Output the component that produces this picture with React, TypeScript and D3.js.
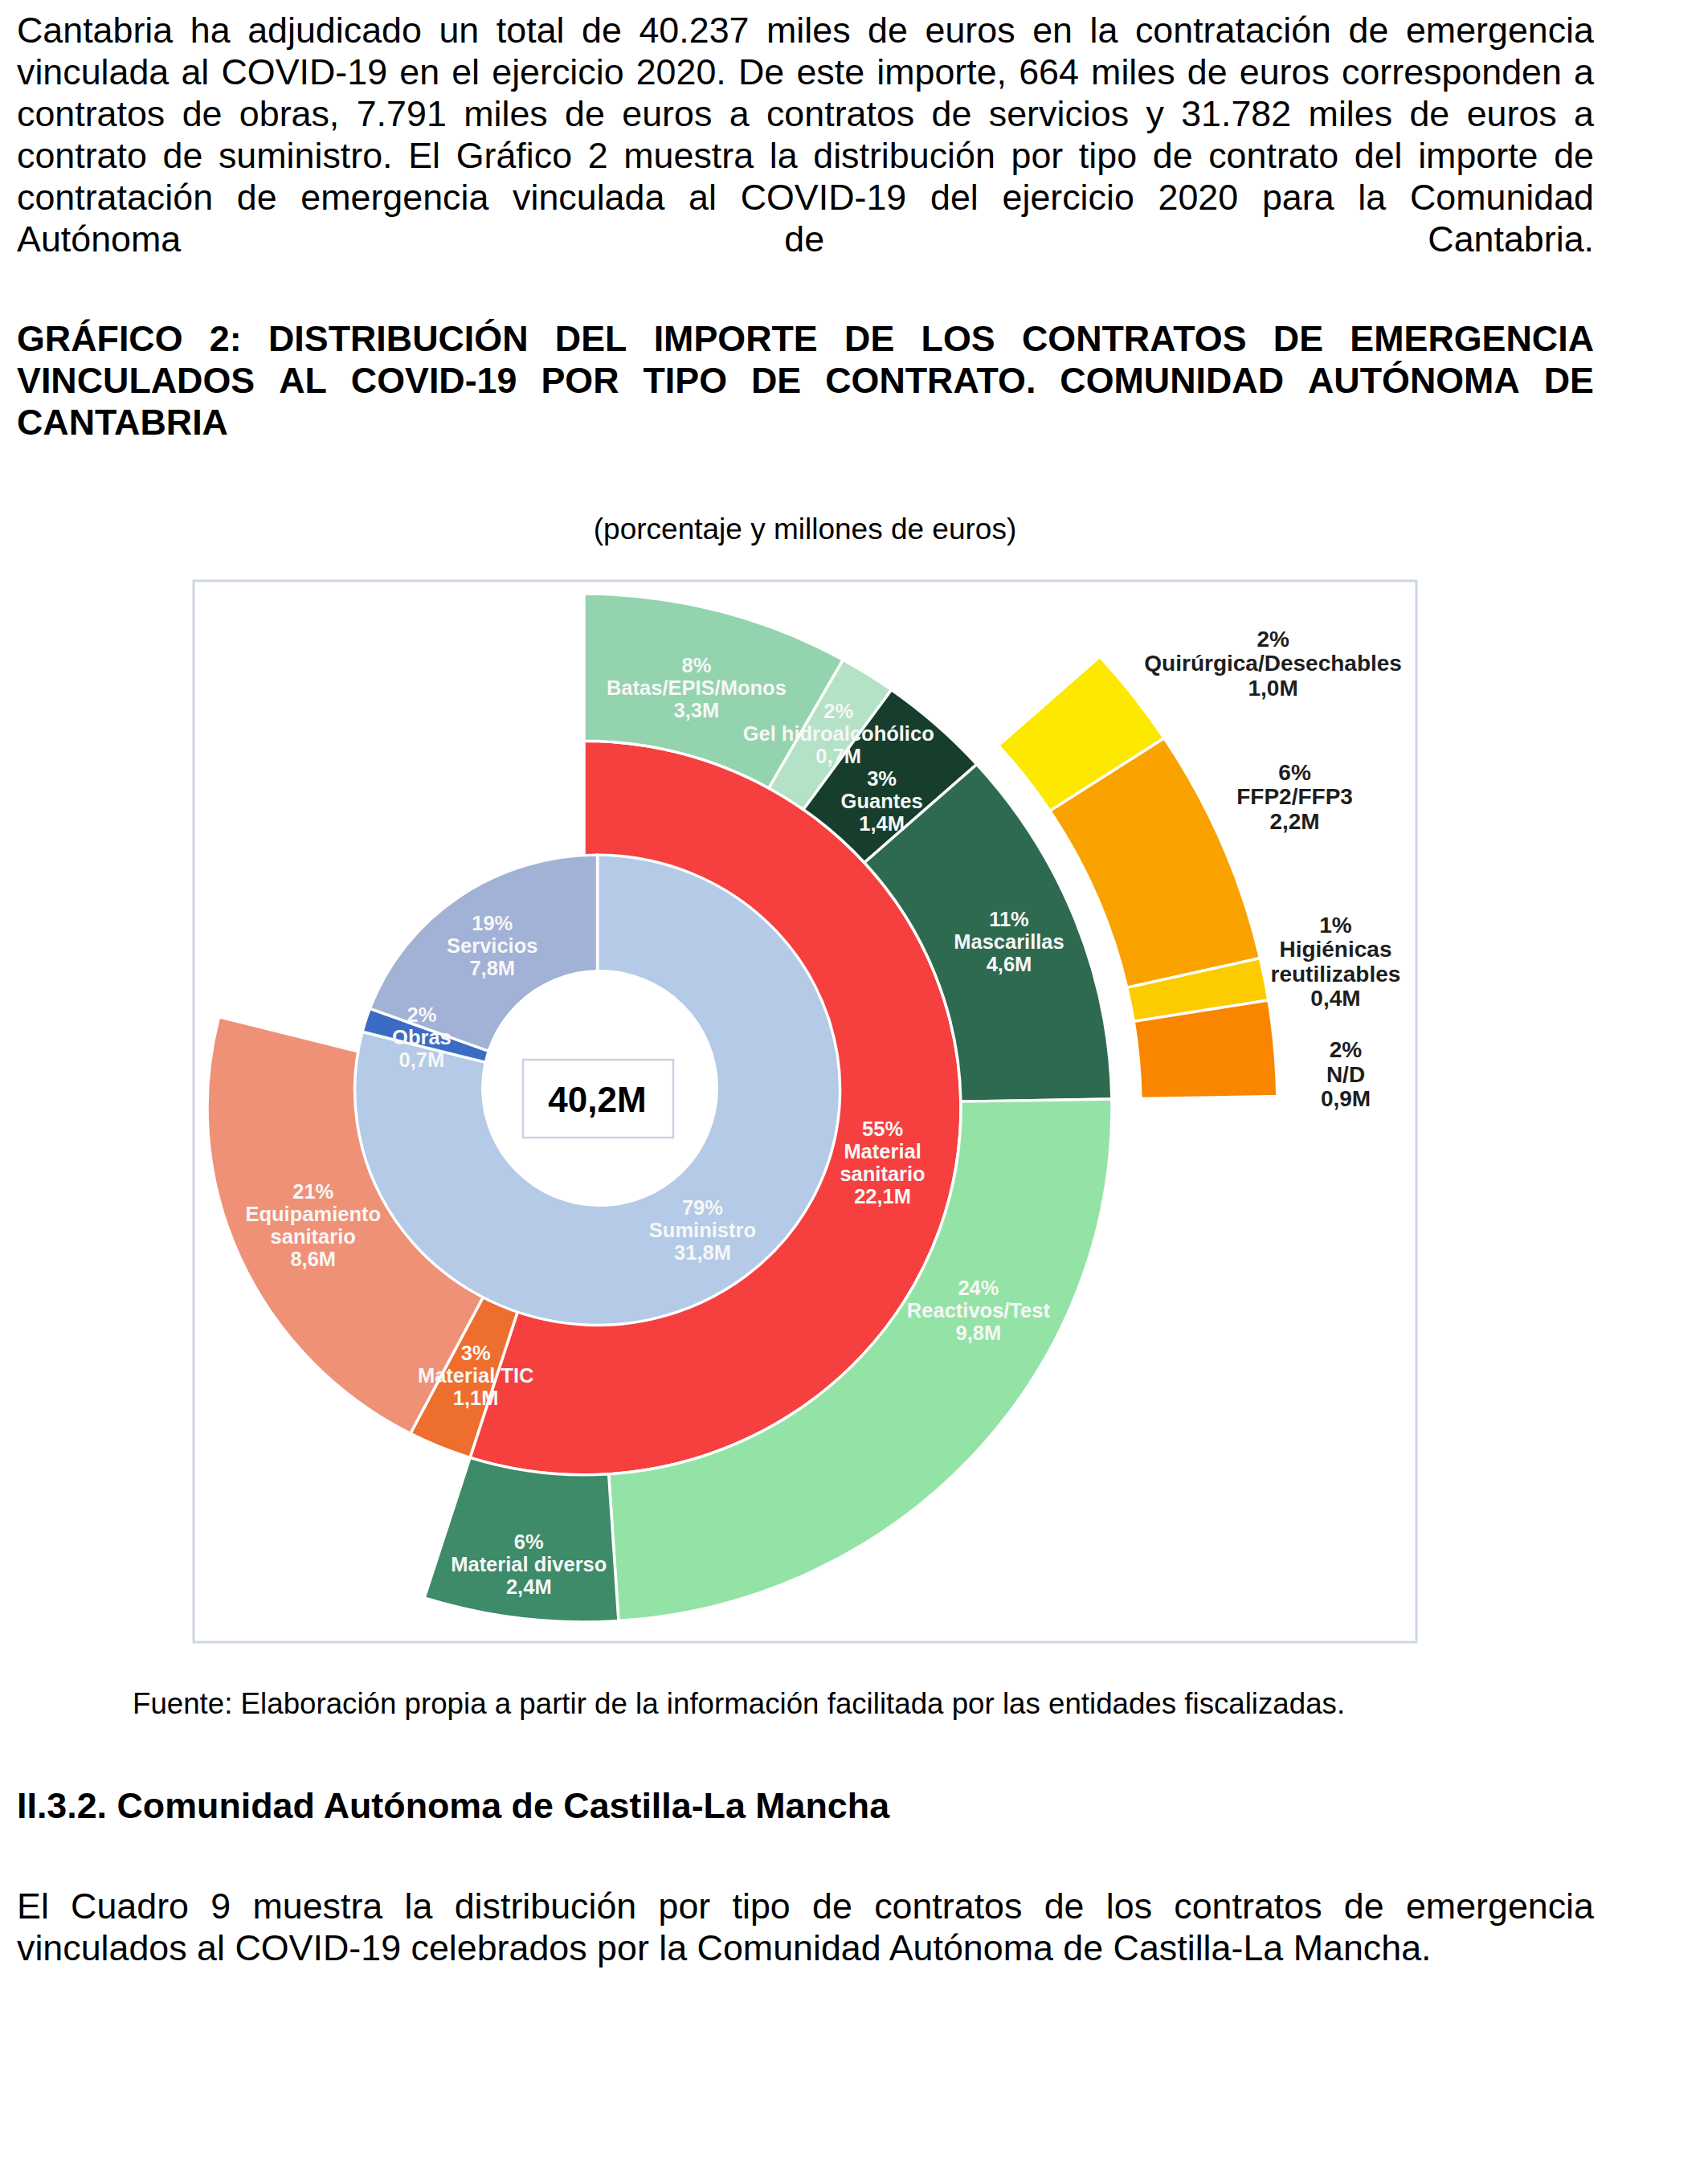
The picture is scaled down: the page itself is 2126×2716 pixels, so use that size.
import React from "react";
import * as d3 from "d3";

// ---------------- DATA ----------------
const contractNames = ["Suministro", "Obras", "Servicios"];
const contractValues = [31782, 664, 7791]; // miles de euros
const contractColors = ["#b4cae6", "#3b6cc5", "#a2b1d6"];

const supplyNames = ["Material\nsanitario", "Material TIC", "Equipamiento\nsanitario"];
const supplyValues = [22.1, 1.1, 8.6]; // millones
const supplyColors = ["#f5403f", "#ee6e2d", "#ef9176"];

const sanitaryNames = ["Batas/EPIS/Monos", "Gel hidroalcohólico", "Guantes", "Mascarillas", "Reactivos/Test", "Material diverso"];
const sanitaryValues = [3.3, 0.7, 1.4, 4.6, 9.8, 2.4];
const sanitaryColors = ["#93d3ae", "#b3e2c6", "#173e2c", "#2e6a4f", "#94e3a6", "#3d8b69"];

const maskNames = ["Quirúrgica/Desechables", "FFP2/FFP3", "Higiénicas\nreutilizables", "N/D"];
const maskValues = [0.96, 2.24, 0.4, 0.9];
const maskColors = ["#fde900", "#f9a200", "#fccc00", "#fa8600"];

const paragraph1 = [
  "Cantabria ha adjudicado un total de 40.237 miles de euros en la contratación de emergencia",
  "vinculada al COVID-19 en el ejercicio 2020. De este importe, 664 miles de euros corresponden a",
  "contratos de obras, 7.791 miles de euros a contratos de servicios y 31.782 miles de euros a",
  "contrato de suministro. El Gráfico 2 muestra la distribución por tipo de contrato del importe de",
  "contratación de emergencia vinculada al COVID-19 del ejercicio 2020 para la Comunidad",
  "Autónoma de Cantabria.",
];
const titleLines = [
  "GRÁFICO 2: DISTRIBUCIÓN DEL IMPORTE DE LOS CONTRATOS DE EMERGENCIA",
  "VINCULADOS AL COVID-19 POR TIPO DE CONTRATO. COMUNIDAD AUTÓNOMA DE",
  "CANTABRIA",
];
const subtitle = "(porcentaje y millones de euros)";
const sourceNote = "Fuente: Elaboración propia a partir de la información facilitada por las entidades fiscalizadas.";
const heading = "II.3.2. Comunidad Autónoma de Castilla-La Mancha";
const paragraph2 = [
  "El Cuadro 9 muestra la distribución por tipo de contratos de los contratos de emergencia",
  "vinculados al COVID-19 celebrados por la Comunidad Autónoma de Castilla-La Mancha.",
];

// ---------------- LAYOUT ----------------
const FONT = "'Liberation Sans', Arial, sans-serif";
const BODY = 44.8;
const C1 = { x: 743.6, y: 1356.8, sy: 0.969 };
const C2 = { x: 727, y: 1379, sy: 0.974 };
const innerLabel = [{ r: 222, t: 0.506 }, { r: 229, t: 0.49 }, { r: 227, t: 0.495 }];
const supplyLabel = [{ r: 378, t: 0.509 }, { r: 367, t: 0.4 }, { r: 369, t: 0.502 }];
const sanitaryLabel = [
  { r: 555, t: 0.497 }, { r: 574, t: 0.66 }, { r: 540, t: 0.62 },
  { r: 570, t: 0.49 }, { r: 555, t: 0.33 }, { r: 587, t: 0.49 },
];
const maskLabel = [{ r: 1029, t: 0.96 }, { r: 970, t: 0.44 }, { r: 954, t: 0.41 }, { r: 949, t: 0.8 }];

let ctx: CanvasRenderingContext2D | null = null;
function measure(s: string, size: number, weight: string) {
  if (!ctx) ctx = document.createElement("canvas").getContext("2d");
  ctx!.font = `${weight} ${size}px "Liberation Sans"`;
  return ctx!.measureText(s).width;
}

function Justified({ text, x, y, width, size, weight }: any) {
  const words = text.split(" ");
  if (words.length < 2) {
    return <text x={x} y={y} fontSize={size} fontWeight={weight} fontFamily={FONT}>{text}</text>;
  }
  const ws = words.map((w: string) => measure(w, size, weight));
  const gap = (width - d3.sum(ws)) / (words.length - 1);
  let cx = x;
  const xs = ws.map((w: number) => { const v = cx; cx += w + gap; return v; });
  return (
    <text y={y} fontSize={size} fontWeight={weight} fontFamily={FONT}>
      {words.map((w: string, i: number) => <tspan key={i} x={xs[i]}>{w}</tspan>)}
    </text>
  );
}

const fmtM = (v: number) => d3.format(".1f")(v).replace(".", ",") + "M";

function Block({ x, y, lines, fs, lh, fill }: any) {
  const n = lines.length;
  return (
    <text textAnchor="middle" fontSize={fs} fontWeight="bold" fill={fill} fontFamily={FONT}>
      {lines.map((s: string, i: number) => (
        <tspan key={i} x={x} y={y + (i - (n - 1) / 2) * lh + 0.36 * fs}>{s}</tspan>
      ))}
    </text>
  );
}

function pos(c: any, d: any, l: any) {
  const a = d.startAngle + l.t * (d.endAngle - d.startAngle);
  return { x: c.x + l.r * Math.sin(a), y: c.y - l.r * Math.cos(a) * c.sy };
}

export default function App() {
  const totalM = d3.sum(contractValues) / 1000;
  const pct = (v: number) => Math.round((v / totalM) * 100) + "%";

  const innerArcs = d3.pie<number>().sort(null).value((d) => d)(contractValues);
  const supplyArcs = d3.pie<number>().sort(null).value((d) => d)
    .startAngle(innerArcs[0].startAngle).endAngle(innerArcs[0].endAngle)(supplyValues);
  const sanitaryArcs = d3.pie<number>().sort(null).value((d) => d)
    .startAngle(supplyArcs[0].startAngle).endAngle(supplyArcs[0].endAngle)(sanitaryValues);
  const maskArcs = d3.pie<number>().sort(null).value((d) => d)
    .startAngle(sanitaryArcs[3].startAngle).endAngle(sanitaryArcs[3].endAngle)(maskValues);

  const arcInner = d3.arc<any>().innerRadius(140).outerRadius(302);
  const arcSupply = d3.arc<any>().innerRadius(250).outerRadius(469);
  const arcSanitary = d3.arc<any>().innerRadius(469).outerRadius(657);
  const arcMask = d3.arc<any>().innerRadius(693).outerRadius(863);

  const white = "#f7f7f7";
  const stroke = { stroke: "#ffffff", strokeWidth: 3.5 };

  return (
    <svg width={2126} height={2716} style={{ position: "absolute", left: 0, top: 0, background: "#fff" }}>
      <rect x={0} y={0} width={2126} height={2716} fill="#fff" />
      {paragraph1.map((l, i) => (
        <Justified key={i} text={l} x={21} y={53 + i * 52} width={1963} size={BODY} weight="normal" />
      ))}
      {titleLines.map((l, i) => (
        <Justified key={i} text={l} x={21} y={437 + i * 52} width={1963} size={BODY} weight="bold" />
      ))}
      <text x={1002} y={671} textAnchor="middle" fontSize={37} fontFamily={FONT}>{subtitle}</text>

      <rect x={241} y={723} width={1522} height={1321} fill="#fff" stroke="#cdd6e6" strokeWidth={3} />

      <g transform={`translate(${C2.x},${C2.y}) scale(1,${C2.sy})`}>
        {supplyArcs.map((d, i) => <path key={"s" + i} d={arcSupply(d)!} fill={supplyColors[i]} {...stroke} />)}
        {sanitaryArcs.map((d, i) => <path key={"m" + i} d={arcSanitary(d)!} fill={sanitaryColors[i]} {...stroke} />)}
        {maskArcs.map((d, i) => <path key={"k" + i} d={arcMask(d)!} fill={maskColors[i]} {...stroke} />)}
      </g>
      <g transform={`translate(${C1.x},${C1.y}) scale(1,${C1.sy})`}>
        {innerArcs.map((d, i) => <path key={"i" + i} d={arcInner(d)!} fill={contractColors[i]} {...stroke} />)}
      </g>
      <circle cx={746.5} cy={1354.5} r={147.5} fill="#fff" />
      <rect x={651} y={1319} width={187} height={97} fill="#fff" stroke="#c9d1e3" strokeWidth={2.5} />
      <text x={743.5} y={1384} textAnchor="middle" fontSize={44} fontWeight="bold" fontFamily={FONT}>
        {fmtM(totalM)}
      </text>

      {innerArcs.map((d, i) => {
        const p = pos(C1, d, innerLabel[i]);
        const v = contractValues[i] / 1000;
        return <Block key={"li" + i} x={p.x} y={p.y} lines={[pct(v), contractNames[i], fmtM(v)]} fs={25.5} lh={28} fill={white} />;
      })}
      {supplyArcs.map((d, i) => {
        const p = pos(C2, d, supplyLabel[i]);
        const v = supplyValues[i];
        return <Block key={"ls" + i} x={p.x} y={p.y} lines={[pct(v), ...supplyNames[i].split("\n"), fmtM(v)]} fs={25.5} lh={28} fill={white} />;
      })}
      {sanitaryArcs.map((d, i) => {
        const p = pos(C2, d, sanitaryLabel[i]);
        const v = sanitaryValues[i];
        return <Block key={"lm" + i} x={p.x} y={p.y} lines={[pct(v), sanitaryNames[i], fmtM(v)]} fs={25.5} lh={28} fill={white} />;
      })}
      {maskArcs.map((d, i) => {
        const p = pos(C2, d, maskLabel[i]);
        const v = maskValues[i];
        return <Block key={"lk" + i} x={p.x} y={p.y} lines={[pct(v), ...maskNames[i].split("\n"), fmtM(v)]} fs={28} lh={30.5} fill="#1e1e1e" />;
      })}

      <text x={165} y={2133} fontSize={36.7} fontFamily={FONT}>{sourceNote}</text>
      <text x={21} y={2263} fontSize={BODY} fontWeight="bold" fontFamily={FONT}>{heading}</text>
      <Justified text={paragraph2[0]} x={21} y={2388} width={1963} size={BODY} weight="normal" />
      <text x={21} y={2440} fontSize={BODY} fontFamily={FONT}>{paragraph2[1]}</text>
    </svg>
  );
}
